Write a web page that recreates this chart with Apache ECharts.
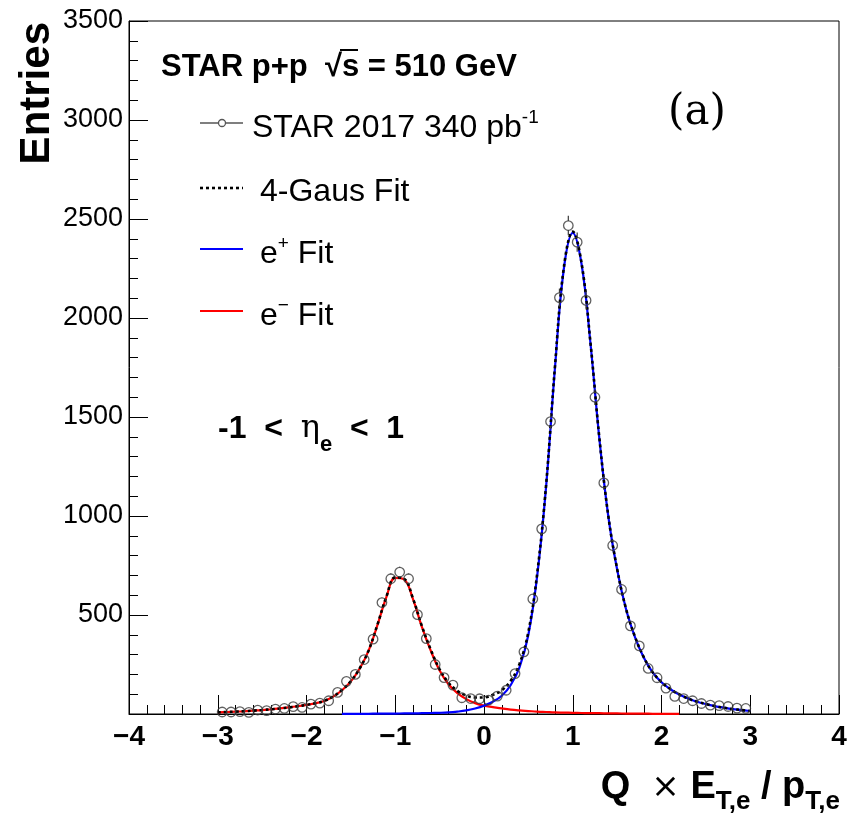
<!DOCTYPE html>
<html>
<head>
<meta charset="utf-8">
<script src="https://cdn.jsdelivr.net/npm/echarts@6.0.0/dist/echarts.min.js"></script>
<style>
html, body { margin: 0; padding: 0; background: #fff; }
#chart { width: 853px; height: 821px; }
</style>
</head>
<body>
<div id="chart"></div>
<script>
// histogram bins (Q x ET/pT), width 0.1
const binCenters = [
  -2.95, -2.85, -2.75, -2.65, -2.55, -2.45, -2.35, -2.25, -2.15, -2.05,
  -1.95, -1.85, -1.75, -1.65, -1.55, -1.45, -1.35, -1.25, -1.15, -1.05,
  -0.95, -0.85, -0.75, -0.65, -0.55, -0.45, -0.35, -0.25, -0.15, -0.05,
  0.05, 0.15, 0.25, 0.35, 0.45, 0.55, 0.65, 0.75, 0.85, 0.95,
  1.05, 1.15, 1.25, 1.35, 1.45, 1.55, 1.65, 1.75, 1.85, 1.95,
  2.05, 2.15, 2.25, 2.35, 2.45, 2.55, 2.65, 2.75, 2.85, 2.95
]
const entries = [
  10, 10, 12, 8, 20, 17, 25, 28, 37, 33,
  50, 55, 67, 109, 165, 200, 275, 378, 563, 683,
  717, 683, 502, 381, 250, 184, 146, 82, 78, 77,
  70, 90, 120, 204, 314, 581, 935, 1477, 2103, 2467,
  2383, 2089, 1600, 1167, 851, 629, 445, 344, 230, 183,
  131, 89, 78, 67, 53, 45, 42, 38, 30, 28
]

// fit curves
const fitX = [
  -3.0, -2.9, -2.8, -2.7, -2.6, -2.5, -2.4, -2.3, -2.2, -2.1,
  -2.0, -1.9, -1.8, -1.7, -1.6, -1.5, -1.4, -1.3, -1.2, -1.1,
  -1.0, -0.9, -0.8, -0.7, -0.6, -0.5, -0.4, -0.3, -0.2, -0.1,
  0.0, 0.1, 0.2, 0.3, 0.4, 0.5, 0.6, 0.7, 0.8, 0.9,
  1.0, 1.1, 1.2, 1.3, 1.4, 1.5, 1.6, 1.7, 1.8, 1.9,
  2.0, 2.1, 2.2, 2.3, 2.4, 2.5, 2.6, 2.7, 2.8, 2.9, 3.0
]
const totalFit = [
  8, 10, 12, 14, 17, 20, 24, 28, 33, 39,
  46, 54, 66, 88, 121, 166, 231, 321, 452, 592,
  690, 683, 583, 444, 325, 226, 158, 117, 93, 83,
  84, 97, 120, 167, 253, 415, 712, 1160, 1758, 2257,
  2436, 2275, 1874, 1394, 1003, 733, 532, 392, 287, 211,
  161, 126, 99, 78, 62, 50, 40, 32, 25, 20, 15
]
// e- fit: -3.0 .. 2.2
const eMinusFit = [
  8, 10, 12, 14, 17, 20, 24, 28, 33, 39,
  46, 54, 66, 88, 120, 165, 230, 320, 450, 590,
  688, 680, 580, 440, 320, 220, 150, 105, 75, 55,
  42, 35, 28, 22, 18, 15, 12, 10, 8, 7,
  6, 5, 4, 4, 3, 3, 2, 2, 2, 1,
  1, 1, 1
]
// e+ fit: -1.6 .. 3.0
const ePlusFit = [
  0.5, 1, 1, 1, 2, 2, 2, 3, 3, 4,
  5, 6, 8, 12, 18, 28, 42, 62, 92, 145,
  235, 400, 700, 1150, 1750, 2250, 2430, 2270, 1870, 1390,
  1000, 730, 530, 390, 285, 210, 160, 125, 98, 78,
  62, 50, 40, 32, 25, 20, 15
]

const FONT = 'Liberation Sans, Arial, sans-serif'

function zip(xs, ys) {
  const out = []
  for (let i = 0; i < ys.length; i++) out.push([xs[i], ys[i]])
  return out
}

const histData = zip(binCenters, entries)
const minusX = fitX.slice(0, eMinusFit.length)
const plusX = fitX.slice(fitX.length - ePlusFit.length)

// rich styles for legend-ish labels
const legendRich = {
  t: {font: '32px ' + FONT, fill: '#000', lineHeight: 40},
  s: {font: '19px ' + FONT, fill: '#000', lineHeight: 20, verticalAlign: 'top'}
}

const myChart = echarts.init(document.getElementById('chart'), null, {renderer: 'canvas'})

const options = {
  animation: false,
  backgroundColor: '#fff',
  grid: {
    left: 129, right: 14, top: 21, bottom: 107,
    show: true, borderColor: '#000', borderWidth: 1
  },
  xAxis: {
    type: 'value', min: -4, max: 4, interval: 1,
    axisLine: {onZero: false, lineStyle: {color: '#000', width: 1}},
    axisTick: {inside: true, length: 19, lineStyle: {color: '#000'}},
    minorTick: {show: true, splitNumber: 5, length: 9, lineStyle: {color: '#000'}},
    splitLine: {show: false},
    axisLabel: {
      color: '#000', fontSize: 28, fontWeight: 'bold', fontFamily: FONT, margin: 9,
      formatter: v => v < 0 ? '\u2212' + Math.abs(v) : String(v)
    }
  },
  yAxis: {
    type: 'value', min: 0, max: 3500, interval: 500,
    axisLine: {show: true, onZero: false, lineStyle: {color: '#000', width: 1}},
    axisTick: {show: true, inside: true, length: 19, lineStyle: {color: '#000'}},
    minorTick: {show: true, splitNumber: 5, length: 9, lineStyle: {color: '#000'}},
    splitLine: {show: false},
    axisLabel: {
      color: '#000', fontSize: 27, fontFamily: FONT, margin: 6,
      formatter: v => v === 0 ? '' : String(v)
    }
  },
  series: [
    {
      name: 'e- Fit', type: 'line', data: zip(minusX, eMinusFit),
      smooth: 0.4, symbol: 'none', z: 2,
      lineStyle: {color: '#ff0000', width: 2.2}
    },
    {
      name: 'e+ Fit', type: 'line', data: zip(plusX, ePlusFit),
      smooth: 0.4, symbol: 'none', z: 2,
      lineStyle: {color: '#0000ff', width: 2.2}
    },
    {
      name: '4-Gaus Fit', type: 'line', data: zip(fitX, totalFit),
      smooth: 0.4, symbol: 'none', z: 3,
      lineStyle: {color: '#000', width: 2.6, type: [3, 3]}
    },
    {
      // sqrt(N) error bars, drawn outside the marker like ROOT does
      name: 'errors', type: 'custom', data: histData, z: 4,
      renderItem: function (params, api) {
        const x = api.value(0), y = api.value(1)
        const c = api.coord([x, y])
        const hi = api.coord([x, y + Math.sqrt(y)])
        const lo = api.coord([x, y - Math.sqrt(y)])
        const r = 4.5
        const children = []
        if (c[1] - hi[1] > r) {
          children.push({type: 'line', shape: {x1: c[0], y1: c[1] - r, x2: hi[0], y2: hi[1]},
            style: {stroke: '#3a3a3a', lineWidth: 1.2}})
          children.push({type: 'line', shape: {x1: c[0], y1: c[1] + r, x2: lo[0], y2: lo[1]},
            style: {stroke: '#3a3a3a', lineWidth: 1.2}})
        }
        return {type: 'group', children: children}
      }
    },
    {
      name: 'STAR 2017', type: 'scatter', data: histData, z: 5,
      symbol: 'circle', symbolSize: 9.5,
      itemStyle: {color: 'rgba(0,0,0,0)', borderColor: '#3a3a3a', borderWidth: 1.3}
    }
  ],
  graphic: [
    // y axis title
    {type: 'text', x: 37, y: 22, rotation: Math.PI / 2,
      style: {text: 'Entries', font: 'bold 42px ' + FONT, fill: '#000', align: 'right', verticalAlign: 'middle'}},
    // header
    {type: 'text', x: 161, y: 67,
      style: {text: 'STAR p+p  \u221As = 510 GeV', font: 'bold 31px ' + FONT, fill: '#000', align: 'left', verticalAlign: 'middle'}},
    {type: 'line', shape: {x1: 340, y1: 50, x2: 358, y2: 50}, style: {stroke: '#000', lineWidth: 2}},
    // legend
    {type: 'line', shape: {x1: 200, y1: 123, x2: 243, y2: 123}, style: {stroke: '#555', lineWidth: 1.5}},
    {type: 'circle', shape: {cx: 222, cy: 123, r: 3.5}, style: {stroke: '#555', fill: '#fff', lineWidth: 1.3}},
    {type: 'text', x: 252, y: 128,
      style: {text: '{t|STAR 2017 340 pb}{s|-1}', align: 'left', verticalAlign: 'middle', rich: legendRich}},
    {type: 'line', shape: {x1: 200, y1: 188, x2: 243, y2: 188}, style: {stroke: '#000', lineWidth: 2.6, lineDash: [3, 3]}},
    {type: 'text', x: 260, y: 192,
      style: {text: '4-Gaus Fit', font: '32px ' + FONT, fill: '#000', align: 'left', verticalAlign: 'middle'}},
    {type: 'line', shape: {x1: 200, y1: 249, x2: 243, y2: 249}, style: {stroke: '#0000ff', lineWidth: 2.2}},
    {type: 'text', x: 260, y: 254,
      style: {text: '{t|e}{s|+}{t| Fit}', align: 'left', verticalAlign: 'middle', rich: legendRich}},
    {type: 'line', shape: {x1: 200, y1: 311, x2: 243, y2: 311}, style: {stroke: '#ff0000', lineWidth: 2.2}},
    {type: 'text', x: 260, y: 316,
      style: {text: '{t|e}{s|\u2212}{t| Fit}', align: 'left', verticalAlign: 'middle', rich: legendRich}},
    // panel label
    {type: 'text', x: 668, y: 113,
      style: {text: '(a)', font: '42px DejaVu Serif, Liberation Serif, serif', fill: '#000', align: 'left', verticalAlign: 'middle'}},
    // eta range
    {type: 'text', x: 218, y: 429,
      style: {
        text: '{b|-1  <  }{g|\u03B7}{s|e}{b|  <  1}', align: 'left', verticalAlign: 'middle',
        rich: {
          b: {font: 'bold 32px ' + FONT, fill: '#000', lineHeight: 54},
          g: {font: '32px DejaVu Serif, serif', fill: '#000', lineHeight: 54},
          s: {font: 'bold 22px ' + FONT, fill: '#000', lineHeight: 20, verticalAlign: 'bottom'}
        }
      }},
    // x axis title
    {type: 'text', x: 840, y: 788,
      style: {
        text: '{b|Q  }{x|\u00D7}{b| E}{s|T,e}{b| / p}{s|T,e}', align: 'right', verticalAlign: 'middle',
        rich: {
          b: {font: 'bold 38px ' + FONT, fill: '#000', lineHeight: 54},
          x: {font: '34px DejaVu Sans, sans-serif', fill: '#000', lineHeight: 54},
          s: {font: 'bold 26px ' + FONT, fill: '#000', lineHeight: 20, verticalAlign: 'bottom'}
        }
      }}
  ]
}

myChart.setOption(options)
window.onresize = myChart.resize
</script>
</body>
</html>
